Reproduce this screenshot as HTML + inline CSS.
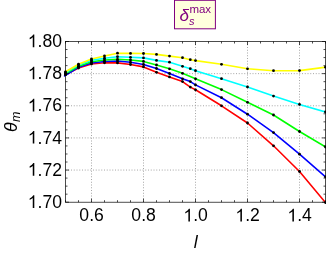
<!DOCTYPE html>
<html><head><meta charset="utf-8"><style>
html,body{margin:0;padding:0;background:#fff;}
svg{display:block;will-change:transform;font-family:"Liberation Sans",sans-serif;}
</style></head><body>
<svg width="327" height="255" viewBox="0 0 327 255">
<defs><path id="one" d="M763 0H583V1147Q518 1085 412.500 1023Q307 961 223 930V1104Q374 1175 487 1276Q600 1377 647 1472H763Z"/></defs>
<rect width="327" height="255" fill="#fff"/>
<g stroke="#808080" stroke-width="0.7" stroke-dasharray="1 1.75" fill="none"><line x1="91.5" y1="41.5" x2="91.5" y2="202.2"/><line x1="143.5" y1="41.5" x2="143.5" y2="202.2"/><line x1="195.5" y1="41.5" x2="195.5" y2="202.2"/><line x1="247.5" y1="41.5" x2="247.5" y2="202.2"/><line x1="299.5" y1="41.5" x2="299.5" y2="202.2"/><line x1="65.5" y1="73.64" x2="325.5" y2="73.64"/><line x1="65.5" y1="105.78" x2="325.5" y2="105.78"/><line x1="65.5" y1="137.92" x2="325.5" y2="137.92"/><line x1="65.5" y1="170.06" x2="325.5" y2="170.06"/></g>
<clipPath id="c"><rect x="63.8" y="41" width="262.1" height="161.7"/></clipPath><clipPath id="d"><rect x="0" y="0" width="325.9" height="255"/></clipPath>
<g clip-path="url(#c)"><polyline fill="none" stroke="#ff0000" stroke-width="1.6" stroke-linejoin="round" stroke-linecap="square" points="65.5,74.7 78.5,68.0 91.5,64.0 104.5,62.8 117.5,62.9 130.5,64.5 143.5,66.9 156.5,72.3 169.5,76.9 182.5,81.6 190.3,87.1 195.5,89.8 221.5,105.8 247.5,123 273.5,145.8 299.5,171.5 325.5,202.6"/><polyline fill="none" stroke="#0000ff" stroke-width="1.6" stroke-linejoin="round" stroke-linecap="square" points="64.3,76.0 65.5,75.2 78.5,67.3 91.5,63.0 104.5,61.5 117.5,61.0 130.5,62.3 143.5,64.5 156.5,68.5 169.5,73.5 182.5,78.8 190.3,81.6 195.5,84.9 221.5,97.7 247.5,114.2 273.5,132.6 299.5,154.2 325.5,176.9"/><polyline fill="none" stroke="#00ff00" stroke-width="1.6" stroke-linejoin="round" stroke-linecap="square" points="65.5,73.6 78.5,66.3 91.5,61.8 104.5,60.0 117.5,59.3 130.5,60.0 143.5,61.4 156.5,65.0 169.5,68.8 182.5,73.3 195.5,78.8 221.5,89.6 247.5,102.3 273.5,115 299.5,131.5 325.5,147"/><polyline fill="none" stroke="#00ffff" stroke-width="1.6" stroke-linejoin="round" stroke-linecap="square" points="65.5,72.6 78.5,65.0 91.5,60.2 104.5,58.2 117.5,56.7 130.5,57.3 143.5,57.9 156.5,60.4 169.5,62.2 182.5,66.3 190.3,68.7 195.5,70.7 221.5,78.7 247.5,86.9 273.5,96.1 299.5,104.4 325.5,112"/><polyline fill="none" stroke="#ffff00" stroke-width="1.6" stroke-linejoin="round" stroke-linecap="square" points="65.5,71.8 78.5,64.2 91.5,59.0 104.5,56.0 117.5,53.2 130.5,53.4 143.5,53.5 156.5,54.4 169.5,56.1 182.5,57.7 190.3,59.7 195.5,60.6 221.5,64.3 247.5,68.8 273.5,70.7 299.5,70.6 325.5,67.2"/></g>
<g fill="#000" clip-path="url(#d)"><circle cx="65.5" cy="74.7" r="1.4"/><circle cx="78.5" cy="68.0" r="1.4"/><circle cx="91.5" cy="64.0" r="1.4"/><circle cx="104.5" cy="62.8" r="1.4"/><circle cx="117.5" cy="62.9" r="1.4"/><circle cx="130.5" cy="64.5" r="1.4"/><circle cx="143.5" cy="66.9" r="1.4"/><circle cx="156.5" cy="72.3" r="1.4"/><circle cx="169.5" cy="76.9" r="1.4"/><circle cx="182.5" cy="81.6" r="1.4"/><circle cx="190.3" cy="87.1" r="1.4"/><circle cx="195.5" cy="89.8" r="1.4"/><circle cx="221.5" cy="105.8" r="1.4"/><circle cx="247.5" cy="123" r="1.4"/><circle cx="273.5" cy="145.8" r="1.4"/><circle cx="299.5" cy="171.5" r="1.4"/><circle cx="325.5" cy="202.6" r="1.4"/><circle cx="65.5" cy="74.6" r="1.4"/><circle cx="78.5" cy="67.3" r="1.4"/><circle cx="91.5" cy="63.0" r="1.4"/><circle cx="104.5" cy="61.5" r="1.4"/><circle cx="117.5" cy="61.0" r="1.4"/><circle cx="130.5" cy="62.3" r="1.4"/><circle cx="143.5" cy="64.5" r="1.4"/><circle cx="156.5" cy="68.5" r="1.4"/><circle cx="169.5" cy="73.5" r="1.4"/><circle cx="182.5" cy="78.8" r="1.4"/><circle cx="190.3" cy="81.6" r="1.4"/><circle cx="195.5" cy="84.9" r="1.4"/><circle cx="221.5" cy="97.7" r="1.4"/><circle cx="247.5" cy="114.2" r="1.4"/><circle cx="273.5" cy="132.6" r="1.4"/><circle cx="299.5" cy="154.2" r="1.4"/><circle cx="325.5" cy="176.9" r="1.4"/><circle cx="65.5" cy="73.6" r="1.4"/><circle cx="78.5" cy="66.3" r="1.4"/><circle cx="91.5" cy="61.8" r="1.4"/><circle cx="104.5" cy="60.0" r="1.4"/><circle cx="117.5" cy="59.3" r="1.4"/><circle cx="130.5" cy="60.0" r="1.4"/><circle cx="143.5" cy="61.4" r="1.4"/><circle cx="156.5" cy="65.0" r="1.4"/><circle cx="169.5" cy="68.8" r="1.4"/><circle cx="182.5" cy="73.3" r="1.4"/><circle cx="195.5" cy="78.8" r="1.4"/><circle cx="221.5" cy="89.6" r="1.4"/><circle cx="247.5" cy="102.3" r="1.4"/><circle cx="273.5" cy="115" r="1.4"/><circle cx="299.5" cy="131.5" r="1.4"/><circle cx="325.5" cy="147" r="1.4"/><circle cx="65.5" cy="72.6" r="1.4"/><circle cx="78.5" cy="65.0" r="1.4"/><circle cx="91.5" cy="60.2" r="1.4"/><circle cx="104.5" cy="58.2" r="1.4"/><circle cx="117.5" cy="56.7" r="1.4"/><circle cx="130.5" cy="57.3" r="1.4"/><circle cx="143.5" cy="57.9" r="1.4"/><circle cx="156.5" cy="60.4" r="1.4"/><circle cx="169.5" cy="62.2" r="1.4"/><circle cx="182.5" cy="66.3" r="1.4"/><circle cx="190.3" cy="68.7" r="1.4"/><circle cx="195.5" cy="70.7" r="1.4"/><circle cx="221.5" cy="78.7" r="1.4"/><circle cx="247.5" cy="86.9" r="1.4"/><circle cx="273.5" cy="96.1" r="1.4"/><circle cx="299.5" cy="104.4" r="1.4"/><circle cx="325.5" cy="112" r="1.4"/><circle cx="65.5" cy="71.8" r="1.4"/><circle cx="78.5" cy="64.2" r="1.4"/><circle cx="91.5" cy="59.0" r="1.4"/><circle cx="104.5" cy="56.0" r="1.4"/><circle cx="117.5" cy="53.2" r="1.4"/><circle cx="130.5" cy="53.4" r="1.4"/><circle cx="143.5" cy="53.5" r="1.4"/><circle cx="156.5" cy="54.4" r="1.4"/><circle cx="169.5" cy="56.1" r="1.4"/><circle cx="182.5" cy="57.7" r="1.4"/><circle cx="190.3" cy="59.7" r="1.4"/><circle cx="195.5" cy="60.6" r="1.4"/><circle cx="221.5" cy="64.3" r="1.4"/><circle cx="247.5" cy="68.8" r="1.4"/><circle cx="273.5" cy="70.7" r="1.4"/><circle cx="299.5" cy="70.6" r="1.4"/><circle cx="325.5" cy="67.2" r="1.4"/></g>
<g stroke="#000" stroke-width="0.7" fill="none"><line x1="65.5" y1="202.2" x2="65.5" y2="200.2"/><line x1="65.5" y1="41.5" x2="65.5" y2="43.5"/><line x1="78.5" y1="202.2" x2="78.5" y2="200.2"/><line x1="78.5" y1="41.5" x2="78.5" y2="43.5"/><line x1="91.5" y1="202.2" x2="91.5" y2="198.7"/><line x1="91.5" y1="41.5" x2="91.5" y2="45.0"/><line x1="104.5" y1="202.2" x2="104.5" y2="200.2"/><line x1="104.5" y1="41.5" x2="104.5" y2="43.5"/><line x1="117.5" y1="202.2" x2="117.5" y2="200.2"/><line x1="117.5" y1="41.5" x2="117.5" y2="43.5"/><line x1="130.5" y1="202.2" x2="130.5" y2="200.2"/><line x1="130.5" y1="41.5" x2="130.5" y2="43.5"/><line x1="143.5" y1="202.2" x2="143.5" y2="198.7"/><line x1="143.5" y1="41.5" x2="143.5" y2="45.0"/><line x1="156.5" y1="202.2" x2="156.5" y2="200.2"/><line x1="156.5" y1="41.5" x2="156.5" y2="43.5"/><line x1="169.5" y1="202.2" x2="169.5" y2="200.2"/><line x1="169.5" y1="41.5" x2="169.5" y2="43.5"/><line x1="182.5" y1="202.2" x2="182.5" y2="200.2"/><line x1="182.5" y1="41.5" x2="182.5" y2="43.5"/><line x1="195.5" y1="202.2" x2="195.5" y2="198.7"/><line x1="195.5" y1="41.5" x2="195.5" y2="45.0"/><line x1="208.5" y1="202.2" x2="208.5" y2="200.2"/><line x1="208.5" y1="41.5" x2="208.5" y2="43.5"/><line x1="221.5" y1="202.2" x2="221.5" y2="200.2"/><line x1="221.5" y1="41.5" x2="221.5" y2="43.5"/><line x1="234.5" y1="202.2" x2="234.5" y2="200.2"/><line x1="234.5" y1="41.5" x2="234.5" y2="43.5"/><line x1="247.5" y1="202.2" x2="247.5" y2="198.7"/><line x1="247.5" y1="41.5" x2="247.5" y2="45.0"/><line x1="260.5" y1="202.2" x2="260.5" y2="200.2"/><line x1="260.5" y1="41.5" x2="260.5" y2="43.5"/><line x1="273.5" y1="202.2" x2="273.5" y2="200.2"/><line x1="273.5" y1="41.5" x2="273.5" y2="43.5"/><line x1="286.5" y1="202.2" x2="286.5" y2="200.2"/><line x1="286.5" y1="41.5" x2="286.5" y2="43.5"/><line x1="299.5" y1="202.2" x2="299.5" y2="198.7"/><line x1="299.5" y1="41.5" x2="299.5" y2="45.0"/><line x1="312.5" y1="202.2" x2="312.5" y2="200.2"/><line x1="312.5" y1="41.5" x2="312.5" y2="43.5"/><line x1="325.5" y1="202.2" x2="325.5" y2="200.2"/><line x1="325.5" y1="41.5" x2="325.5" y2="43.5"/><line x1="65.5" y1="41.5" x2="69.0" y2="41.5"/><line x1="325.5" y1="41.5" x2="322.0" y2="41.5"/><line x1="65.5" y1="49.53" x2="67.5" y2="49.53"/><line x1="325.5" y1="49.53" x2="323.5" y2="49.53"/><line x1="65.5" y1="57.57" x2="67.5" y2="57.57"/><line x1="325.5" y1="57.57" x2="323.5" y2="57.57"/><line x1="65.5" y1="65.61" x2="67.5" y2="65.61"/><line x1="325.5" y1="65.61" x2="323.5" y2="65.61"/><line x1="65.5" y1="73.64" x2="69.0" y2="73.64"/><line x1="325.5" y1="73.64" x2="322.0" y2="73.64"/><line x1="65.5" y1="81.67" x2="67.5" y2="81.67"/><line x1="325.5" y1="81.67" x2="323.5" y2="81.67"/><line x1="65.5" y1="89.71" x2="67.5" y2="89.71"/><line x1="325.5" y1="89.71" x2="323.5" y2="89.71"/><line x1="65.5" y1="97.75" x2="67.5" y2="97.75"/><line x1="325.5" y1="97.75" x2="323.5" y2="97.75"/><line x1="65.5" y1="105.78" x2="69.0" y2="105.78"/><line x1="325.5" y1="105.78" x2="322.0" y2="105.78"/><line x1="65.5" y1="113.81" x2="67.5" y2="113.81"/><line x1="325.5" y1="113.81" x2="323.5" y2="113.81"/><line x1="65.5" y1="121.85" x2="67.5" y2="121.85"/><line x1="325.5" y1="121.85" x2="323.5" y2="121.85"/><line x1="65.5" y1="129.88" x2="67.5" y2="129.88"/><line x1="325.5" y1="129.88" x2="323.5" y2="129.88"/><line x1="65.5" y1="137.92" x2="69.0" y2="137.92"/><line x1="325.5" y1="137.92" x2="322.0" y2="137.92"/><line x1="65.5" y1="145.95" x2="67.5" y2="145.95"/><line x1="325.5" y1="145.95" x2="323.5" y2="145.95"/><line x1="65.5" y1="153.99" x2="67.5" y2="153.99"/><line x1="325.5" y1="153.99" x2="323.5" y2="153.99"/><line x1="65.5" y1="162.03" x2="67.5" y2="162.03"/><line x1="325.5" y1="162.03" x2="323.5" y2="162.03"/><line x1="65.5" y1="170.06" x2="69.0" y2="170.06"/><line x1="325.5" y1="170.06" x2="322.0" y2="170.06"/><line x1="65.5" y1="178.09" x2="67.5" y2="178.09"/><line x1="325.5" y1="178.09" x2="323.5" y2="178.09"/><line x1="65.5" y1="186.13" x2="67.5" y2="186.13"/><line x1="325.5" y1="186.13" x2="323.5" y2="186.13"/><line x1="65.5" y1="194.16" x2="67.5" y2="194.16"/><line x1="325.5" y1="194.16" x2="323.5" y2="194.16"/><line x1="65.5" y1="202.2" x2="69.0" y2="202.2"/><line x1="325.5" y1="202.2" x2="322.0" y2="202.2"/><rect x="65.5" y="41.5" width="260" height="160.7"/></g>
<g font-size="17.6px" fill="#000"><text x="79.37" y="221.40">0.6</text><text x="131.37" y="221.40">0.8</text><use href="#one" transform="translate(183.37,221.40) scale(0.00859,-0.00859)"/><text x="193.16" y="221.40">.0</text><use href="#one" transform="translate(235.37,221.40) scale(0.00859,-0.00859)"/><text x="245.16" y="221.40">.2</text><use href="#one" transform="translate(287.37,221.40) scale(0.00859,-0.00859)"/><text x="297.16" y="221.40">.4</text><use href="#one" transform="translate(27.75,47.20) scale(0.00859,-0.00859)"/><text x="37.53" y="47.20">.80</text><use href="#one" transform="translate(27.75,79.34) scale(0.00859,-0.00859)"/><text x="37.53" y="79.34">.78</text><use href="#one" transform="translate(27.75,111.48) scale(0.00859,-0.00859)"/><text x="37.53" y="111.48">.76</text><use href="#one" transform="translate(27.75,143.62) scale(0.00859,-0.00859)"/><text x="37.53" y="143.62">.74</text><use href="#one" transform="translate(27.75,175.76) scale(0.00859,-0.00859)"/><text x="37.53" y="175.76">.72</text><use href="#one" transform="translate(27.75,207.90) scale(0.00859,-0.00859)"/><text x="37.53" y="207.90">.70</text></g>
<text x="195.6" y="248.3" font-size="17.6px" font-style="italic" text-anchor="middle">l</text>
<g transform="translate(16.5,132) rotate(-90) scale(1,1.04)"><text x="0" y="0" font-size="17.6px" font-style="italic">θ</text><text x="10" y="3.2" font-size="12.5px" font-style="italic">m</text></g>
<rect x="174.5" y="0.3" width="40.9" height="28.5" fill="#ffffdd" stroke="#800080" stroke-width="1"/>
<g fill="#800080"><text x="179.5" y="20.6" font-size="17px" font-style="italic">δ</text><text x="189.4" y="12.9" font-size="11.5px">max</text><text x="189" y="25.3" font-size="11px" font-style="italic">s</text></g>
</svg>
</body></html>
